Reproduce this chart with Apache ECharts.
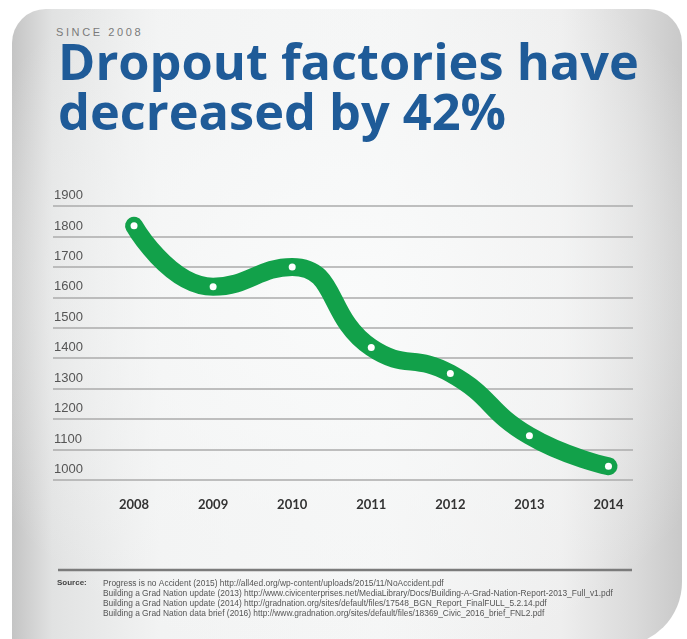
<!DOCTYPE html>
<html><head><meta charset="UTF-8">
<title>Dropout factories</title>
<script src="https://cdn.jsdelivr.net/npm/echarts@6/dist/echarts.min.js"></script>
<style>
  body { margin: 0; background: #fff; }
  #wrap { position: relative; width: 687px; height: 639px; overflow: hidden; }
  #card {
    position: absolute; left: 12px; top: 9px; width: 670px; height: 637px;
    border-radius: 34px 34px 64px 8px;
    background:
      radial-gradient(ellipse 62% 60% at 50% 45%, rgba(250,251,251,0.9) 0%, rgba(246,247,247,0.5) 60%, rgba(246,247,247,0) 100%),
      linear-gradient(to right, #c4c4c4 0%, #e1e2e2 6%, #f2f3f3 22%, #f5f6f6 55%, #eeeeee 82%, #dadada 93%, #c9c9c9 100%);
  }
  #since {
    position: absolute; left: 56px; top: 26px;
    font: 11px 'Liberation Sans', Arial, sans-serif; letter-spacing: 2.6px; color: #7a7a7a;
  }
  #g1 { position: absolute; left: 0; top: 0; width: 687px; height: 639px; }
</style>
</head>
<body>
<div id="wrap">
  <div id="card"></div>
  <div id="since">SINCE 2008</div>
  <div id="g1"></div>
</div>
<script type="text/javascript">
// data
var years = [2008, 2009, 2010, 2011, 2012, 2013, 2014];
var factories = [1835, 1635, 1700, 1435, 1350, 1145, 1045];
var yTicks = { min: 1000, max: 1900, step: 100 };

var sources = [
  'Progress is no Accident (2015) http://all4ed.org/wp-content/uploads/2015/11/NoAccident.pdf',
  'Building a Grad Nation update (2013) http://www.civicenterprises.net/MediaLibrary/Docs/Building-A-Grad-Nation-Report-2013_Full_v1.pdf',
  'Building a Grad Nation update (2014) http://gradnation.org/sites/default/files/17548_BGN_Report_FinalFULL_5.2.14.pdf',
  'Building a Grad Nation data brief (2016) http://www.gradnation.org/sites/default/files/18369_Civic_2016_brief_FNL2.pdf'
];

var points = years.map(function (y, i) { return [y, factories[i]]; });

var myChart = echarts.init(document.getElementById('g1'));
var option = {
  backgroundColor: 'transparent',
  animation: false,
  title: {
    text: 'Dropout factories have\ndecreased by 42%',
    left: 53, top: 36,
    textStyle: {
      fontFamily: 'Open Sans', fontWeight: 'bold', fontSize: 50.5, lineHeight: 50,
      color: '#1f5b98'
    }
  },
  grid: { left: 53, right: 54, top: 206, bottom: 159 },
  xAxis: {
    type: 'value',
    min: 2006.975, max: 2014.31,
    axisLine: { show: false },
    axisTick: { show: false },
    splitLine: { show: false },
    axisLabel: {
      customValues: years,
      margin: 18,
      color: '#333',
      fontFamily: 'Lato', fontWeight: 'bold', fontSize: 13,
      formatter: function (v) { return String(v); }
    }
  },
  yAxis: {
    type: 'value',
    min: yTicks.min, max: yTicks.max, interval: yTicks.step,
    axisLine: { show: false },
    axisTick: { show: false },
    axisLabel: {
      inside: true, margin: 1,
      verticalAlign: 'bottom',
      padding: [0, 0, 4, 0],
      color: '#555',
      fontFamily: 'Liberation Sans', fontSize: 13,
      formatter: function (v) { return String(v); }
    },
    splitLine: { lineStyle: { color: '#ababab', width: 1.5 } }
  },
  series: [{
    type: 'line',
    data: points,
    smooth: 0.5,
    clip: false,
    lineStyle: { color: '#12a14a', width: 18, cap: 'round', join: 'round' },
    symbol: 'circle',
    symbolSize: 7,
    showAllSymbol: true,
    itemStyle: { color: '#ffffff', borderWidth: 0 },
    z: 3
  }],
  graphic: [
    { type: 'line', shape: { x1: 58, y1: 570, x2: 632, y2: 570 },
      style: { stroke: '#7b7b7b', lineWidth: 2.5 } },
    { type: 'text', left: 57, top: 579,
      style: { text: 'Source:', font: 'bold 8px "Liberation Sans"', fill: '#444' } },
    { type: 'text', left: 103, top: 579,
      style: { text: sources.join('\n'), font: '8.4px "Liberation Sans"', lineHeight: 10, fill: '#555' } }
  ]
};
myChart.setOption(option);
</script>
</body></html>
